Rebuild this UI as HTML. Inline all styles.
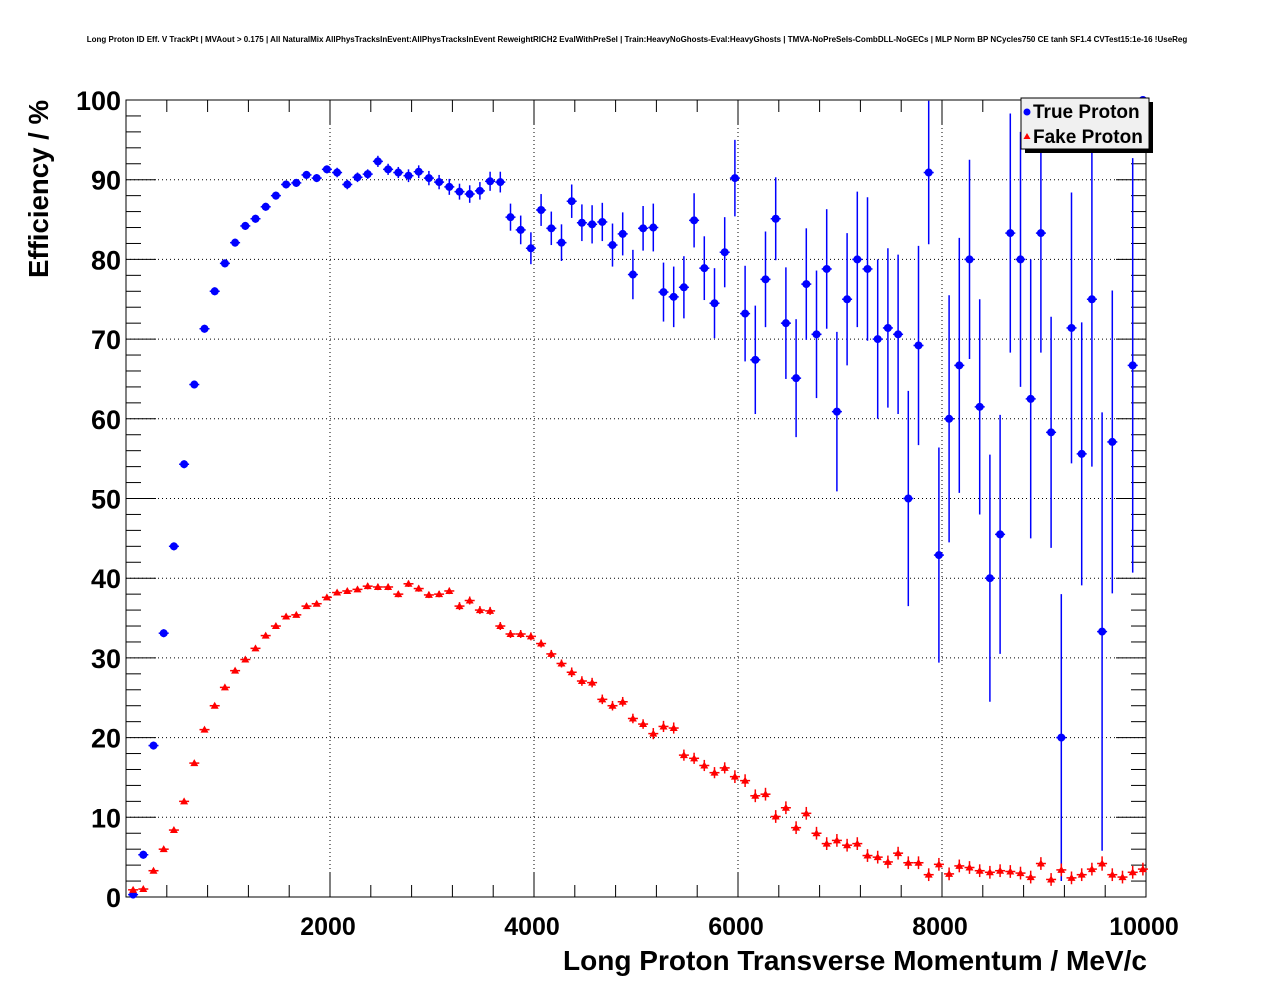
<!DOCTYPE html>
<html><head><meta charset="utf-8">
<style>
html,body{margin:0;padding:0;background:#fff;}
svg text{font-family:"Liberation Sans",Arial,sans-serif;}
</style></head>
<body>
<svg id="chart" width="1276" height="996" xmlns="http://www.w3.org/2000/svg">
<rect width="1276" height="996" fill="#fff"/>
<text x="637" y="42" font-size="8" font-weight="bold" text-anchor="middle">Long Proton ID Eff. V TrackPt | MVAout &gt; 0.175 | All NaturalMix AllPhysTracksInEvent:AllPhysTracksInEvent ReweightRICH2 EvalWithPreSel | Train:HeavyNoGhosts-Eval:HeavyGhosts | TMVA-NoPreSels-CombDLL-NoGECs | MLP Norm BP NCycles750 CE tanh SF1.4 CVTest15:1e-16 !UseReg</text>
<g id="grid"></g>
<g id="axes"></g>
<g id="series"></g>
<text x="1147" y="970" font-size="28" font-weight="bold" text-anchor="end" textLength="584" lengthAdjust="spacingAndGlyphs">Long Proton Transverse Momentum / MeV/c</text>
<text transform="translate(48,278) rotate(-90)" font-size="27.5" font-weight="bold" text-anchor="start" textLength="178" lengthAdjust="spacingAndGlyphs">Efficiency / %</text>
<g>
<rect x="1025" y="102" width="128" height="51" fill="#000"/>
<rect x="1021" y="98" width="128" height="51" fill="#f0f0f0" stroke="#000" stroke-width="1"/>
<circle cx="1027" cy="112" r="3.5" fill="#0000ff"/>
<text x="1033" y="118" font-size="19" font-weight="bold">True Proton</text>
<polygon points="1027,133 1023.5,139 1030.5,139" fill="#ff0000"/>
<text x="1033" y="143" font-size="19" font-weight="bold">Fake Proton</text>
</g>
</svg>
<script>
const binCenters = [];
for (let i = 0; i < 100; i++) binCenters.push(50 + 100 * i);
const xTickLabels = ["2000","4000","6000","8000","10000"];
const xTickValues = [2000,4000,6000,8000,10000];
const yTickValues = [0,10,20,30,40,50,60,70,80,90,100];
const trueVals = [0.3,5.3,19,33.1,44,54.3,64.3,71.3,76,79.5,82.1,84.2,85.1,86.6,88,89.4,89.6,90.6,90.2,91.3,90.9,89.4,90.3,90.7,92.3,91.3,90.9,90.5,91,90.2,89.7,89.1,88.5,88.2,88.6,89.8,89.7,85.3,83.7,81.4,86.2,83.9,82.1,87.3,84.6,84.4,84.7,81.8,83.2,78.1,83.9,84,75.9,75.3,76.5,84.9,78.9,74.5,80.9,90.2,73.2,67.4,77.5,85.1,72,65.1,76.9,70.6,78.8,60.9,75,80,78.8,70,71.4,70.6,50,69.2,90.9,42.9,60,66.7,80,61.5,40,45.5,83.3,80,62.5,83.3,58.3,20,71.4,55.6,75,33.3,57.1,null,66.7,100];
const trueErr = [0.3,0.5,0.5,0.5,0.5,0.5,0.5,0.5,0.5,0.5,0.5,0.5,0.5,0.5,0.5,0.5,0.5,0.5,0.5,0.5,0.6,0.6,0.6,0.6,0.7,0.7,0.7,0.8,0.8,0.9,0.9,1,1,1.1,1.1,1.2,1.3,1.7,1.8,2,2,2.1,2.3,2.1,2.3,2.4,2.4,2.7,2.7,3.1,2.8,3,3.7,3.8,3.9,3.4,4,4.4,4.4,4.8,6,6.8,6,5.2,7,7.4,7,8,7.5,10,8.3,8.5,9,10,10,10,13.5,12.5,9,13.5,15.5,16,12.5,13.5,15.5,15,15,16,17.5,15,14.5,18,17,16.5,21,27.5,19,0,26,0];
const fakeVals = [0.9,1,3.3,6,8.4,12,16.8,21,24,26.3,28.4,29.8,31.2,32.8,34,35.2,35.4,36.5,36.8,37.6,38.2,38.4,38.6,39,38.9,38.9,38,39.3,38.7,37.9,38,38.4,36.5,37.2,36,35.9,34,33,33,32.7,31.8,30.5,29.3,28.2,27.1,26.9,24.8,24,24.5,22.4,21.7,20.5,21.4,21.2,17.8,17.4,16.5,15.6,16.2,15.1,14.6,12.7,12.9,10.1,11.2,8.7,10.5,8,6.7,7.1,6.5,6.7,5.2,5,4.4,5.5,4.3,4.3,2.8,4.1,2.9,3.9,3.7,3.3,3.1,3.3,3.2,3,2.5,4.2,2.2,3.4,2.4,2.8,3.5,4.2,2.8,2.5,3.1,3.5];
const fakeErr = [0.2,0.2,0.3,0.3,0.3,0.3,0.3,0.3,0.3,0.3,0.3,0.3,0.3,0.3,0.3,0.3,0.3,0.3,0.3,0.3,0.3,0.3,0.3,0.4,0.4,0.4,0.4,0.4,0.4,0.4,0.4,0.4,0.5,0.5,0.5,0.5,0.5,0.5,0.5,0.5,0.5,0.5,0.5,0.6,0.6,0.6,0.6,0.6,0.6,0.6,0.6,0.7,0.7,0.7,0.7,0.7,0.7,0.7,0.7,0.8,0.8,0.8,0.8,0.8,0.8,0.8,0.8,0.8,0.8,0.8,0.8,0.8,0.8,0.8,0.8,0.8,0.8,0.8,0.8,0.8,0.8,0.8,0.8,0.8,0.8,0.8,0.8,0.8,0.8,0.8,0.8,0.8,0.8,0.8,0.8,0.9,0.8,0.8,0.8,0.8];

const X0=126, X1=1146, Y0=897, Y1=100;
const xs = v => X0 + (v/10000)*(X1-X0);
const ys = v => Y0 - (v/100)*(Y0-Y1);
const NS="http://www.w3.org/2000/svg";
function mk(tag, attrs, parent){const e=document.createElementNS(NS,tag);for(const k in attrs)e.setAttribute(k,attrs[k]);parent.appendChild(e);return e;}
const grid=document.getElementById('grid'), axes=document.getElementById('axes'), ser=document.getElementById('series');

xTickValues.forEach((v,i)=>{
  if(v<10000){const g=mk('line',{x1:xs(v),x2:xs(v),y1:Y1,y2:Y0,stroke:'#000','stroke-width':1,'stroke-dasharray':'1,3'},grid);
  
  }
  const t=mk('text',{x:xs(v)-2,y:935,'font-size':25,'font-weight':'bold','text-anchor':'middle'},axes);
  t.textContent=xTickLabels[i];
  
  
});
yTickValues.forEach(v=>{
  if(v>0&&v<100){const g=mk('line',{x1:X0,x2:X1,y1:ys(v),y2:ys(v),stroke:'#000','stroke-width':1,'stroke-dasharray':'1,3'},grid);
  
  }
  const t=mk('text',{x:121,y:ys(v)+10,'font-size':27,'font-weight':'bold','text-anchor':'end'},axes);
  t.textContent=String(v);
  
  
});
for(let v=0;v<=10000;v+=400){const big=v%2000===0;
  mk('line',{x1:xs(v),x2:xs(v),y1:Y0,y2:Y0-(big?24:12),stroke:'#000'},axes);
  mk('line',{x1:xs(v),x2:xs(v),y1:Y1,y2:Y1+(big?24:12),stroke:'#000'},axes);}
for(let v=0;v<=100;v+=2){const big=v%10===0;
  mk('line',{x1:X0,x2:X0+(big?30:15),y1:ys(v),y2:ys(v),stroke:'#000'},axes);
  mk('line',{x1:X1,x2:X1-(big?30:15),y1:ys(v),y2:ys(v),stroke:'#000'},axes);}
const fr=mk('rect',{x:X0,y:Y1,width:X1-X0,height:Y0-Y1,fill:'none',stroke:'#000','stroke-width':1},axes);



function drawSeries(vals, errs, color, shape, name){
  vals.forEach((v,i)=>{
    if(v===null) return;
    const cx=xs(binCenters[i])+2, cy=ys(v);
    const top=Math.max(Y1,ys(Math.min(100,v+errs[i]))), bot=Math.min(Y0,ys(Math.max(0,v-errs[i])));
    const g=mk('g',{},ser);
    
    
    mk('line',{x1:cx,x2:cx,y1:top,y2:bot,stroke:color,'stroke-width':1.5},g);
    mk('line',{x1:cx-5,x2:cx+5,y1:cy,y2:cy,stroke:color,'stroke-width':1.5},g);
    if(shape==='c') mk('circle',{cx:cx,cy:cy,r:4,fill:color},g);
    else mk('polygon',{points:`${cx},${cy-4} ${cx-4},${cy+3} ${cx+4},${cy+3}`,fill:color},g);
  });
}
drawSeries(trueVals,trueErr,'#0000ff','c','true-proton');
drawSeries(fakeVals,fakeErr,'#ff0000','t','fake-proton');
</script>
</body></html>
